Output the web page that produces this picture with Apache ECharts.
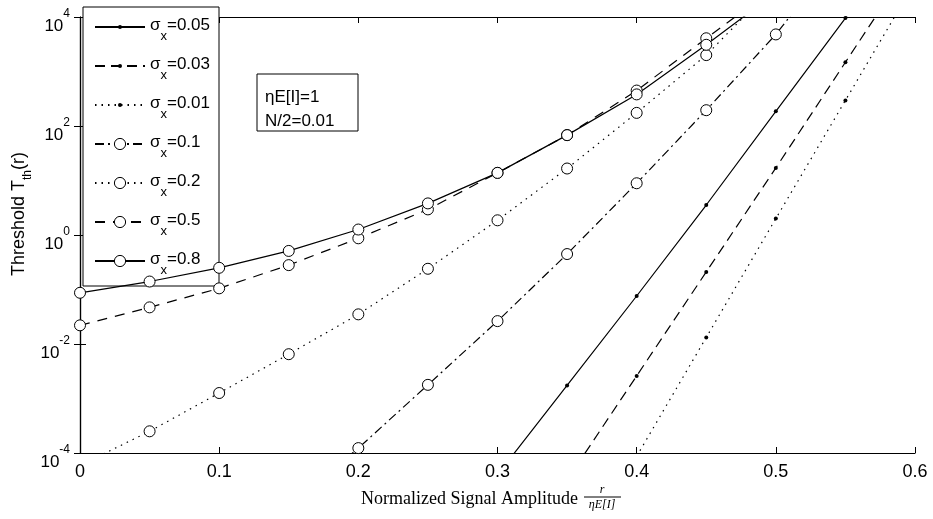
<!DOCTYPE html>
<html>
<head>
<meta charset="utf-8">
<script src="https://cdn.jsdelivr.net/npm/echarts@6/dist/echarts.min.js"></script>
<style>
  html, body { margin: 0; padding: 0; background: #fff; }
  #chart { width: 933px; height: 519px; }
</style>
</head>
<body>
<div id="chart"></div>
<script>
// x positions of the markers (normalized signal amplitude)
var xs = [0, 0.05, 0.1, 0.15, 0.2, 0.25, 0.3, 0.35, 0.4, 0.45, 0.5, 0.55, 0.6];

// threshold values, one per x (null = not drawn)
var sig005 = [null, null, null, null, null, null, 4e-5, 0.00174, 0.076, 3.55, 186, 9550, 5e5];
var sig003 = [null, null, null, null, null, null, null, 3.2e-5, 0.0026, 0.21, 17, 1480, 1.26e5];
var sig001 = [null, null, null, null, null, null, null, null, 8.7e-5, 0.0132, 2.0, 295, 43600];
var sig01  = [null, null, null, 1e-5, 1.23e-4, 0.00178, 0.0263, 0.447, 8.9, 195, 4790, 2e5, null];
var sig02  = [5.9e-5, 2.5e-4, 0.00126, 0.0065, 0.035, 0.24, 1.86, 16.6, 174, 2000, 40000, null, null];
var sig05  = [0.022, 0.047, 0.105, 0.28, 0.87, 2.95, 13.8, 68, 447, 4070, 35500, null, null];
var sig08  = [0.087, 0.14, 0.25, 0.51, 1.26, 3.8, 13.8, 68, 380, 3090, 28000, null, null];

var names = ['σx=0.05', 'σx=0.03', 'σx=0.01', 'σx=0.1', 'σx=0.2', 'σx=0.5', 'σx=0.8'];

var sans = 'Liberation Sans';

function pairs(vals) {
  return xs.map(function (x, i) { return [x, vals[i]]; });
}

// dot = small filled marker, ring = open circle
function mkSeries(name, vals, dash, ring) {
  return {
    name: name,
    type: 'line',
    data: pairs(vals),
    xAxisIndex: 0,
    yAxisIndex: 0,
    symbol: 'circle',
    symbolSize: ring ? 11 : 4,
    showAllSymbol: true,
    clip: true,
    animation: false,
    color: '#000',
    itemStyle: ring
      ? { color: '#fff', borderColor: '#000', borderWidth: 1 }
      : { color: '#000', borderColor: '#000', borderWidth: 0 },
    lineStyle: { color: '#000', width: 1.2, type: dash },
    emphasis: { disabled: true }
  };
}

var legendText = {
  fontFamily: sans,
  fontSize: 17,
  color: '#000',
  rich: {
    a: { fontFamily: sans, fontSize: 17, lineHeight: 20, verticalAlign: 'top', color: '#000' },
    b: { fontFamily: sans, fontSize: 13, lineHeight: 13, padding: [13, 0, 0, 0], verticalAlign: 'top', color: '#000' }
  }
};
function legendFmt(name) {
  return '{a|σ}{b|x}{a|' + name.slice(2) + '}';
}

var chart = echarts.init(document.getElementById('chart'));
var option = {
  backgroundColor: '#fff',
  animation: false,
  grid: { left: 80, right: 18, top: 17, bottom: 66 },
  xAxis: [{
    type: 'value', min: 0, max: 0.6, interval: 0.1, position: 'bottom',
    axisLine: { lineStyle: { color: '#000', width: 1.2 } },
    axisTick: { inside: true, length: 6, lineStyle: { color: '#000' } },
    axisLabel: { color: '#000', fontFamily: sans, fontSize: 18, margin: 10 },
    splitLine: { show: false }
  }, {
    type: 'value', min: 0, max: 0.6, interval: 0.1, position: 'top',
    axisLine: { lineStyle: { color: '#000', width: 1.2 } },
    axisTick: { inside: true, length: 6, lineStyle: { color: '#000' } },
    axisLabel: { show: false },
    splitLine: { show: false }
  }],
  yAxis: [{
    type: 'log', logBase: 10, min: 1e-4, max: 1e4, interval: 2, position: 'left',
    axisLine: { lineStyle: { color: '#000', width: 1.2 } },
    axisTick: { inside: true, length: 6, lineStyle: { color: '#000' } },
    minorTick: { show: false },
    splitLine: { show: false },
    axisLabel: {
      margin: 10,
      formatter: function (v) {
        var e = Math.round(Math.log(v) / Math.LN10);
        return '{b|10}{s|' + e + '}';
      },
      rich: {
        b: { fontFamily: sans, fontSize: 17, lineHeight: 18, padding: [10, 0, 0, 0], verticalAlign: 'top', color: '#000' },
        s: { fontFamily: sans, fontSize: 12, lineHeight: 12, verticalAlign: 'top', color: '#000' }
      }
    }
  }, {
    type: 'log', logBase: 10, min: 1e-4, max: 1e4, interval: 2, position: 'right',
    axisLine: { lineStyle: { color: '#000', width: 1.2 } },
    axisTick: { inside: true, length: 6, lineStyle: { color: '#000' } },
    minorTick: { show: false },
    splitLine: { show: false },
    axisLabel: { show: false }
  }],
  legend: [{
    data: names.slice(0, 3),
    orient: 'vertical', left: 94, top: 17, padding: 0,
    itemWidth: 50, itemHeight: 5, itemGap: 13,
    selectedMode: false,
    formatter: legendFmt,
    textStyle: legendText
  }, {
    data: names.slice(3),
    orient: 'vertical', left: 94, top: 134, padding: 0,
    itemWidth: 50, itemHeight: 14, itemGap: 13,
    selectedMode: false,
    itemStyle: { borderWidth: 1 },
    formatter: legendFmt,
    textStyle: legendText
  }],
  graphic: [
    // legend frame
    { type: 'rect', z: 3, shape: { x: 83, y: 7, width: 136, height: 279 },
      style: { fill: '#fff', stroke: '#000', lineWidth: 1 } },
    // parameter box
    { type: 'rect', z: 3, shape: { x: 257, y: 74, width: 101, height: 57 },
      style: { fill: '#fff', stroke: '#000', lineWidth: 1 } },
    { type: 'text', z: 4, x: 265, y: 97,
      style: { text: 'ηE[I]=1', font: '17px "Liberation Sans"', fill: '#000', verticalAlign: 'middle' } },
    { type: 'text', z: 4, x: 265, y: 121,
      style: { text: 'N/2=0.01', font: '17px "Liberation Sans"', fill: '#000', verticalAlign: 'middle' } },
    // y axis name
    { type: 'text', z: 4, x: 20, y: 214, rotation: Math.PI / 2,
      style: {
        text: '{a|Threshold T}{b|th}{a|(r)}', align: 'center', verticalAlign: 'middle',
        rich: {
          a: { fontFamily: sans, fontSize: 18, lineHeight: 20, verticalAlign: 'top', fill: '#000' },
          b: { fontFamily: sans, fontSize: 12, lineHeight: 12, padding: [12, 0, 0, 0], verticalAlign: 'top', fill: '#000' }
        }
      } },
    // x axis name with fraction r / (eta E[I])
    { type: 'text', z: 4, x: 578, y: 499,
      style: { text: 'Normalized Signal Amplitude', font: '18px "Liberation Serif"', fill: '#000', align: 'right', verticalAlign: 'middle' } },
    { type: 'text', z: 4, x: 602, y: 490,
      style: { text: 'r', font: 'italic 12px "Liberation Serif"', fill: '#000', align: 'center', verticalAlign: 'middle' } },
    { type: 'line', z: 4, shape: { x1: 584, y1: 497, x2: 621, y2: 497 },
      style: { stroke: '#000', lineWidth: 1 } },
    { type: 'text', z: 4, x: 602, y: 505,
      style: { text: 'ηE[I]', font: 'italic 12px "Liberation Serif"', fill: '#000', align: 'center', verticalAlign: 'middle' } }
  ],
  series: [
    mkSeries(names[0], sig005, 'solid', false),
    mkSeries(names[1], sig003, [10, 6], false),
    mkSeries(names[2], sig001, [1.5, 5], false),
    mkSeries(names[3], sig01, [9, 4, 2, 4], true),
    mkSeries(names[4], sig02, [1.5, 5], true),
    mkSeries(names[5], sig05, [10, 8], true),
    mkSeries(names[6], sig08, 'solid', true)
  ]
};
chart.setOption(option);
</script>
</body>
</html>
